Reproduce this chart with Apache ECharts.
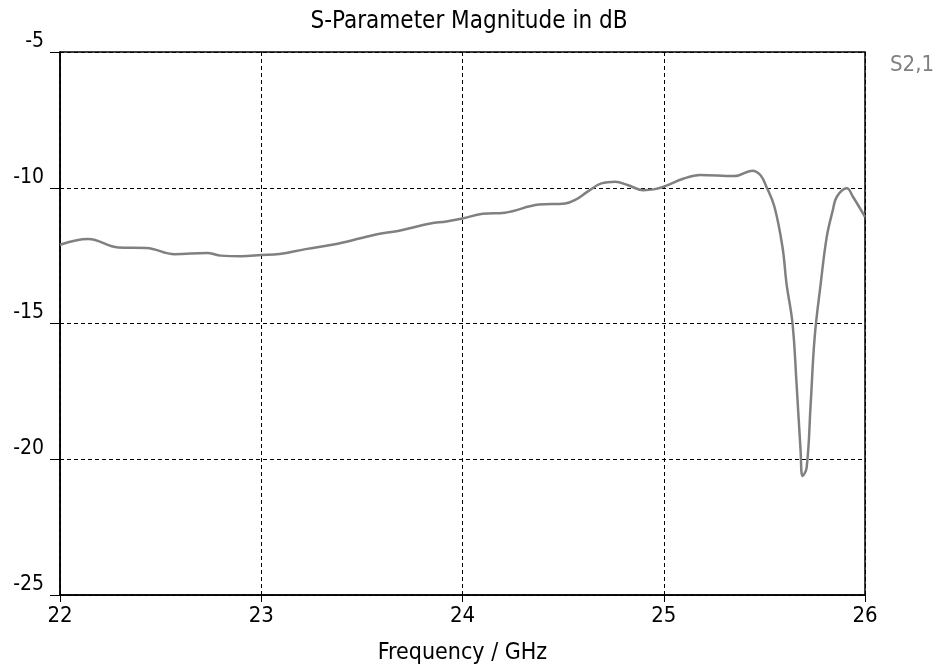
<!DOCTYPE html>
<html><head><meta charset="utf-8">
<script src="https://cdn.jsdelivr.net/npm/echarts@6/dist/echarts.min.js"></script>
<style>html,body{margin:0;padding:0;background:#fff}#c{width:938px;height:670px}</style>
</head><body><div id="c"></div>
<script>
const freq = [22.0,22.14,22.29,22.43,22.57,22.73,22.8,22.9,23.0,23.09,23.22,23.38,23.57,23.68,23.84,23.92,24.0,24.1,24.21,24.38,24.51,24.56,24.62,24.69,24.76,24.82,24.9,24.95,25.0,25.1,25.18,25.35,25.44,25.48,25.51,25.55,25.59,25.61,25.64,25.66,25.68,25.69,25.71,25.73,25.75,25.78,25.81,25.84,25.86,25.91,25.94,26.0];
const s21 = [-12.1,-11.89,-12.2,-12.22,-12.45,-12.4,-12.5,-12.52,-12.48,-12.44,-12.26,-12.06,-11.72,-11.59,-11.32,-11.24,-11.13,-10.96,-10.92,-10.62,-10.58,-10.45,-10.15,-9.84,-9.78,-9.9,-10.09,-10.06,-9.96,-9.66,-9.53,-9.57,-9.37,-9.53,-9.96,-10.7,-12.18,-13.53,-15.01,-17.23,-19.69,-20.62,-20.31,-17.97,-15.5,-13.53,-11.81,-10.83,-10.33,-10.02,-10.33,-11.07];
const xTicks = [22,23,24,25,26];
const yTicks = [-25,-20,-15,-10,-5];
const font = "'DejaVu Sans Condensed','Liberation Sans Narrow','Liberation Sans',sans-serif";
const chart = echarts.init(document.getElementById('c'), null, {renderer:'canvas'});
chart.setOption({
  animation:false,
  title:{text:'S-Parameter Magnitude in dB',left:'center',top:5,textStyle:{fontFamily:font,fontSize:24,fontWeight:'normal',color:'#000'}},
  legend:{data:['S2,1'],right:4,top:54,icon:'none',itemWidth:0,itemGap:0,padding:0,textStyle:{fontFamily:font,fontSize:22,color:'#808080'}},
  grid:{left:60,right:73,top:52,bottom:75,show:true,borderColor:'#000',borderWidth:1.5},
  xAxis:{type:'value',min:xTicks[0],max:xTicks[xTicks.length-1],interval:1,
    name:'Frequency / GHz',nameLocation:'middle',nameGap:47,nameTextStyle:{fontFamily:font,fontSize:23,color:'#000'},
    axisLine:{show:true,lineStyle:{color:'#000',width:1.5}},
    axisTick:{show:true,length:7,lineStyle:{color:'#000'}},
    axisLabel:{fontFamily:font,fontSize:22,color:'#000',margin:10},
    splitLine:{show:true,lineStyle:{color:'#000',type:[4,3],width:1}}},
  yAxis:{type:'value',min:yTicks[0],max:yTicks[yTicks.length-1],interval:5,
    axisLine:{show:true,lineStyle:{color:'#000',width:1.5}},
    axisTick:{show:true,length:10,lineStyle:{color:'#000'}},
    axisLabel:{fontFamily:font,fontSize:21,color:'#000',margin:16,verticalAlign:'bottom'},
    splitLine:{show:true,lineStyle:{color:'#000',type:[4,3],width:1}}},
  series:[{name:'S2,1',type:'line',data:freq.map((f,i)=>[f,s21[i]]),smooth:0.4,showSymbol:false,
    lineStyle:{color:'#808080',width:2.5},itemStyle:{color:'#808080'}}]
});
</script></body></html>
